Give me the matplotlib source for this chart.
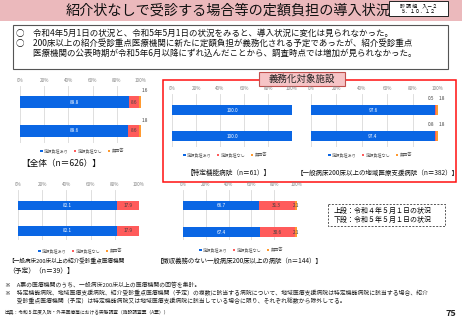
import matplotlib
matplotlib.use('Agg')
import matplotlib.pyplot as plt
from matplotlib.patches import Rectangle
import numpy as np

plt.rcParams['font.family'] = ['Noto Sans CJK JP', 'DejaVu Sans']

# ---------------- data ----------------
years = ['令和4年5月1日', '令和5年5月1日']
legend_labels = ['定額負担あり', '定額負担なし', '無回答']

all_with = [89.8, 89.6]
all_without = [8.6, 8.6]
all_na = [1.6, 1.8]

tokutei_with = [100.0, 100.0]
tokutei_without = [0.0, 0.0]
tokutei_na = [0.0, 0.0]

chiiki_with = [97.6, 97.4]
chiiki_without = [0.5, 0.8]
chiiki_na = [1.8, 1.8]

shokai_with = [82.1, 82.1]
shokai_without = [17.9, 17.9]
shokai_na = [0.0, 0.0]

other_with = [66.7, 67.4]
other_without = [31.3, 30.6]
other_na = [2.1, 2.1]

xticks = [0, 20, 40, 60, 80, 100]

title = '紹介状なしで受診する場合等の定額負担の導入状況'
summary = ['○　令和4年5月1日の状況と、令和5年5月1日の状況をみると、導入状況に変化は見られなかった。',
           '○　200床以上の紹介受診重点医療機関に新たに定額負担が義務化される予定であったが、紹介受診重点',
           '　　医療機関の公表時期が令和5年6月以降にずれ込んだことから、調査時点では増加が見られなかった。']
notes = ['※　A票の医療機関のうち、一般病床200床以上の医療機関の回答を集計。',
         '※　特定機能病院、地域医療支援病院、紹介受診重点医療機関（予定）の複数に該当する病院について、地域医療支援病院は特定機能病院に該当する場合、紹介',
         '　　受診重点医療機関（予定）は特定機能病院又は地域医療支援病院に該当している場合に限り、それぞれ総数から除外してる。']
source = '出典：令和５年度入院・外来医療等における実態調査（施設調査票（A票））'

# ---------------- style ----------------
BLUE = '#0a66e4'
RED = '#ff5b5b'
ORANGE = '#ff9a30'
COLORS = [BLUE, RED, ORANGE]
W, H = 462, 320

fig = plt.figure(figsize=(4.62, 3.2), dpi=100)
bg = fig.add_axes([0, 0, 1, 1])
bg.set_xlim(0, W)
bg.set_ylim(H, 0)
bg.axis('off')

# title band
bg.add_patch(Rectangle((0, 0), W, 21, facecolor='#ebb9bc', edgecolor='none', zorder=0))
bg.text(228, 10.5, title, fontsize=10.2, ha='center', va='center', color='#111111', zorder=1)
bg.add_patch(Rectangle((389, 1), 59, 15, facecolor='white', edgecolor='#222222', lw=0.7, zorder=2))
bg.text(418.5, 5.5, '診 調 組　入－２', fontsize=3.6, ha='center', va='center', zorder=3)
bg.text(418.5, 11.5, '５．１０．１２', fontsize=3.6, ha='center', va='center', zorder=3)

# summary box
bg.add_patch(Rectangle((13, 25), 435, 44, facecolor='white', edgecolor='#555555', lw=0.8, zorder=1))
for i, s in enumerate(summary):
    bg.text(16, 33.5 + i * 10, s, fontsize=6.1, ha='left', va='center', color='#111111', zorder=2)

# red box + label
bg.add_patch(Rectangle((163, 80), 293, 102, facecolor='none', edgecolor='#ff1010', lw=1.1, zorder=1))
bg.add_patch(Rectangle((259, 72), 86, 14, facecolor='#f6c4c6', edgecolor='#c0504d', lw=0.8, zorder=2))
bg.text(302, 79, '義務化対象施設', fontsize=6.8, ha='center', va='center', color='#222222', zorder=3)

# dashed legend-like box
bg.add_patch(Rectangle((328, 204), 117, 22, facecolor='white', edgecolor='#555555', lw=0.7,
                       linestyle=(0, (2, 1.5)), zorder=1))
bg.text(334, 210.5, '上段：令和４年５月１日の状況', fontsize=5.0, ha='left', va='center', zorder=2)
bg.text(334, 219.5, '下段：令和５年５月１日の状況', fontsize=5.0, ha='left', va='center', zorder=2)

# notes
for i, s in enumerate(notes):
    bg.text(5, 285 + i * 8, s, fontsize=4.2, ha='left', va='center', color='#222222')
bg.text(4, 313, source, fontsize=3.4, ha='left', va='center', color='#222222')
bg.text(456, 313, '75', fontsize=6.5, ha='right', va='center', fontweight='bold', color='#222222')


def panel(layout, rows, small_mode, offsets, legend_xy, label_lines):
    x0, x1, ty, gb, c1, c2, bh = layout
    top = ty + 5
    ax = fig.add_axes([x0 / W, 1 - gb / H, (x1 - x0) / W, (gb - top) / H])
    ax.patch.set_alpha(0)
    unit = c2 - c1
    ax.set_xlim(0, 100)
    ax.set_ylim(1 + (gb - c2) / unit, -(c1 - top) / unit)
    ypos = np.arange(len(years))
    left = np.zeros(len(years))
    small_idx = [0] * len(years)
    for k, (vals, col, lab) in enumerate(zip(rows, COLORS, legend_labels)):
        vals = np.array(vals, dtype=float)
        ax.barh(ypos, vals, left=left, height=bh / unit, color=col, label=lab, zorder=3)
        for j, v in enumerate(vals):
            if v <= 0:
                continue
            cx = left[j] + v / 2
            tc = 'white' if k == 0 else '#404040'
            if v >= 5 or small_mode == 'inside':
                ax.text(cx, ypos[j], f'{v:.1f}', ha='center', va='center', fontsize=3.4,
                        color=tc, zorder=4)
            else:
                dx = offsets[small_idx[j]]
                small_idx[j] += 1
                ax.annotate(f'{v:.1f}', (cx, ypos[j]), xytext=(dx * 0.72, 11 * 0.72),
                            textcoords='offset points', ha='center', va='center',
                            fontsize=3.4, color='#404040', zorder=4)
        left += vals
    ax.set_xticks(xticks)
    ax.set_xticklabels([f'{t}%' for t in xticks])
    ax.xaxis.tick_top()
    ax.tick_params(axis='x', length=0, pad=2.0, labelsize=3.3, labelcolor='#808080')
    ax.set_yticks([])
    ax.grid(axis='x', color='#d9d9d9', lw=0.6, zorder=0)
    for s in ax.spines.values():
        s.set_visible(False)
    ax.legend(loc='center', bbox_to_anchor=(legend_xy[0] / W, 1 - legend_xy[1] / H),
              bbox_transform=fig.transFigure, ncol=3, frameon=False, fontsize=3.0,
              handlelength=0.6, handleheight=0.6, handletextpad=0.3, columnspacing=1.3,
              labelcolor='#595959', borderpad=0)
    for (lx, ly, txt, fs) in label_lines:
        bg.text(lx, ly, txt, fontsize=fs, ha='left', va='center', color='#111111')
    return ax


panel((20, 141, 81, 143, 102, 131, 11.5), [all_with, all_without, all_na], 'above', [5],
      (82, 151), [(21, 163, '【全体（n＝626）】', 6.2)])
panel((172, 292, 89, 147, 110, 136, 10), [tokutei_with, tokutei_without, tokutei_na], 'above', [0],
      (225, 155), [(187, 173, '【特定機能病院（n＝61）】', 4.8)])
panel((311, 438, 89, 147, 110, 136, 10), [chiiki_with, chiiki_without, chiiki_na], 'above', [-4, 5],
      (370, 155), [(297, 173, '【一般病床200床以上の地域医療支援病院（n＝382）】', 4.7)])
panel((18, 139, 185, 240, 205.5, 231, 9.5), [shokai_with, shokai_without, shokai_na], 'inside', [0],
      (80, 251), [(8, 261, '【一般病床200床以上の紹介受診重点医療機関', 4.1),
                  (8, 271, '（予定）（n＝39）】', 4.9)])
panel((183, 297, 185, 240, 205.5, 232, 9.5), [other_with, other_without, other_na], 'inside', [0],
      (241, 250), [(157, 261, '【徴収義務のない一般病床200床以上の病院（n＝144）】', 4.6)])

fig.savefig('out.png', dpi=100)
